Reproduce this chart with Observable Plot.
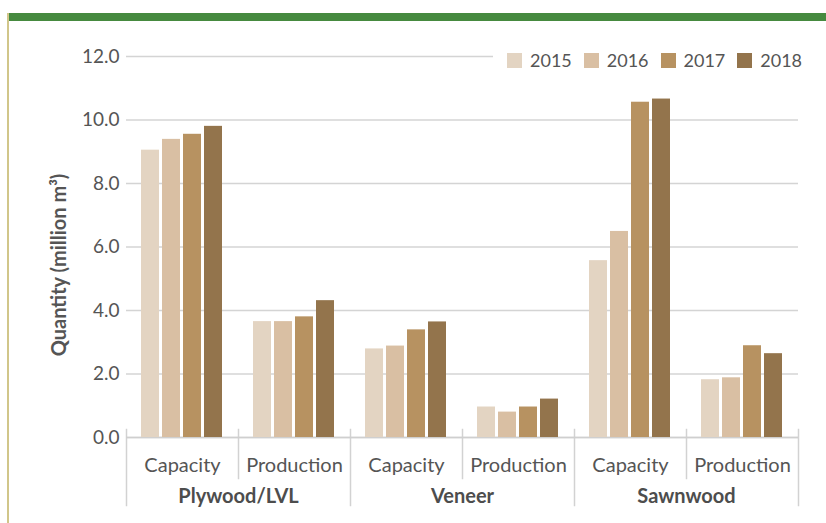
<!DOCTYPE html>
<html>
<head>
<meta charset="utf-8">
<script src="https://cdn.jsdelivr.net/npm/d3@7"></script>
<script src="https://cdn.jsdelivr.net/npm/@observablehq/plot@0.6"></script>
<style>
  html, body { margin: 0; padding: 0; background: #fff; }
  #wrap { position: relative; width: 826px; height: 523px; overflow: hidden; font-family: Lato, sans-serif; }
  #topbar { position: absolute; left: 7px; top: 13px; width: 819px; height: 8px; background: #468a3f; }
  #leftline { position: absolute; left: 7px; top: 13px; width: 2px; height: 510px; background: #d1c68a; }
  #chart { position: absolute; left: 0; top: 0; }
  #legend { position: absolute; left: 493px; top: 48px; height: 24px; background: #fff; display: flex; align-items: center; padding-left: 14px; font-size: 18px; color: #555; }
  #legend .item { display: flex; align-items: center; margin-right: 12px; }
  #legend .sw { width: 15px; height: 15px; margin-right: 8px; }
</style>
</head>
<body>
<div id="wrap">
  <div id="chart"></div>
  <div id="topbar"></div>
  <div id="leftline"></div>
  <div id="legend"></div>
</div>
<script>
const groups = ["Plywood/LVL", "Veneer", "Sawnwood"];
const measures = ["Capacity", "Production"];
const years = ["2015", "2016", "2017", "2018"];
const yearColors = ["#e3d4c2", "#d9bfa3", "#b79261", "#93744c"];
const yTicks = [0, 2, 4, 6, 8, 10, 12];
const yTitle = "Quantity (million m³)";

const plywoodCapacity   = [9.05, 9.39, 9.55, 9.80];
const plywoodProduction = [3.65, 3.65, 3.80, 4.31];
const veneerCapacity    = [2.79, 2.88, 3.39, 3.64];
const veneerProduction  = [0.96, 0.80, 0.96, 1.21];
const sawnwoodCapacity  = [5.57, 6.49, 10.56, 10.66];
const sawnwoodProduction= [1.82, 1.88, 2.89, 2.64];

const series = {
  "Plywood/LVL|Capacity": plywoodCapacity,
  "Plywood/LVL|Production": plywoodProduction,
  "Veneer|Capacity": veneerCapacity,
  "Veneer|Production": veneerProduction,
  "Sawnwood|Capacity": sawnwoodCapacity,
  "Sawnwood|Production": sawnwoodProduction
};
const keys = groups.flatMap(g => measures.map(m => g + "|" + m));
const data = keys.flatMap(k => years.map((y, i) => ({key: k, year: y, value: series[k][i]})));

const sepColor = "#d2d2d2";
const frames = keys.map(k => Plot.frame({
  fx: k, anchor: "left", stroke: sepColor, strokeWidth: 1.5,
  insetTop: 373, insetBottom: k.endsWith("Capacity") ? -68 : -41
}));
frames.push(Plot.frame({
  fx: keys[keys.length - 1], anchor: "right", stroke: sepColor, strokeWidth: 1.5,
  insetTop: 373, insetBottom: -68
}));

const chart = Plot.plot({
  width: 826,
  height: 523,
  marginLeft: 124,
  marginRight: 26,
  marginTop: 56,
  marginBottom: 86,
  style: {fontFamily: "Lato, sans-serif", color: "#555", background: "transparent"},
  fx: {domain: keys, padding: 0, axis: null},
  x: {domain: years, paddingInner: 0.14, paddingOuter: 0.62, axis: null},
  y: {domain: [0, 12], axis: null},
  color: {domain: years, range: yearColors},
  marks: [
    Plot.gridY(yTicks, {stroke: "#d4d4d4", strokeOpacity: 1, strokeWidth: 1.3}),
    ...frames,
    Plot.ruleY([0], {stroke: "#cfcfcf", strokeWidth: 1.5}),
    Plot.barY(data, {fx: "key", x: "year", y: "value", fill: "year"}),
    Plot.axisY(yTicks, {tickFormat: d3.format(".1f"), tickSize: 0, tickPadding: 7, fontSize: 19, label: null}),
    Plot.text(keys, {fx: d => d, text: d => d.split("|")[1], frameAnchor: "bottom", lineAnchor: "middle", dy: 28, fontSize: 20, fill: "#555"}),
    Plot.text(groups, {fx: d => d + "|Capacity", text: d => d, frameAnchor: "bottom-right", textAnchor: "middle", lineAnchor: "middle", dy: 59, fontSize: 20, fontWeight: "bold", fill: "#4d4d4d"}),
    Plot.text([yTitle], {fx: () => keys[0], text: d => d, frameAnchor: "left", rotate: -90, textAnchor: "middle", lineAnchor: "middle", dx: -67, dy: 18, fontSize: 20, fontWeight: "bold", fill: "#555"})
  ]
});
document.getElementById("chart").appendChild(chart);

const legend = document.getElementById("legend");
years.forEach((y, i) => {
  const item = document.createElement("div");
  item.className = "item";
  const sw = document.createElement("div");
  sw.className = "sw";
  sw.style.background = yearColors[i];
  const t = document.createElement("span");
  t.textContent = y;
  item.appendChild(sw);
  item.appendChild(t);
  legend.appendChild(item);
});
</script>
</body>
</html>
